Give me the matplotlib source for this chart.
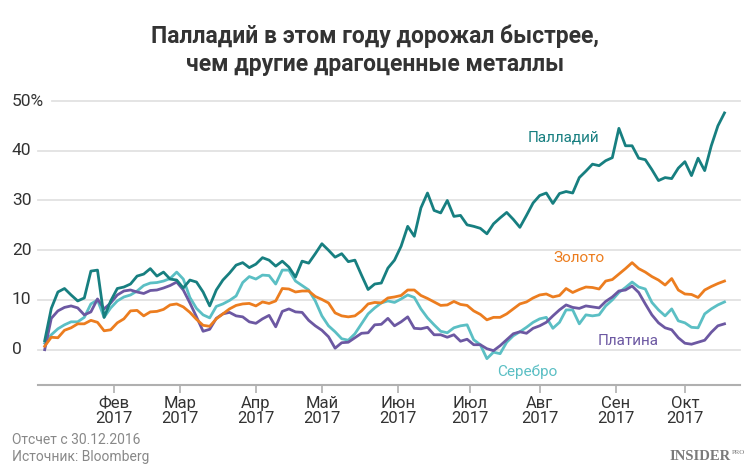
import numpy as np
import pandas as pd
import matplotlib
matplotlib.use('Agg')
import matplotlib.pyplot as plt
from matplotlib import transforms

# every second business day from 3 Jan 2017, % change since 30.12.2016
start = '2017-01-03'
dates = pd.bdate_range(start, '2017-10-18')[::2]

palladium = [
    1.8, 8.3, 11.6, 12.3, 11.0, 9.8, 10.4, 15.8, 16.0, 6.5,
    9.8, 12.3, 12.6, 13.2, 14.8, 15.2, 16.3, 14.8, 15.6, 14.2,
    14.0, 12.4, 14.0, 13.6, 11.6, 8.8, 12.0, 14.0, 15.4, 17.0,
    17.5, 16.5, 17.2, 18.5, 18.0, 16.8, 17.8, 16.6, 14.6, 17.8,
    17.4, 19.3, 21.3, 20.0, 18.6, 19.3, 17.7, 18.0, 15.0, 12.1,
    13.2, 13.4, 16.4, 18.0, 20.8, 24.8, 22.8, 28.5, 31.5, 28.0,
    27.5, 30.0, 26.8, 27.0, 25.1, 24.8, 24.4, 23.3, 25.3, 26.5,
    27.6, 26.2, 24.6, 27.0, 29.5, 31.0, 31.5, 29.4, 31.4, 31.8,
    31.5, 34.6, 35.9, 37.3, 37.0, 38.0, 38.6, 44.5, 41.0, 41.0,
    38.5, 38.2, 36.2, 34.0, 34.6, 34.4, 36.5, 37.8, 35.0, 38.5,
    36.0, 41.0, 45.0, 47.6]

gold = [
    0.7, 2.5, 2.4, 3.9, 4.4, 5.2, 5.2, 5.9, 5.5, 3.8,
    4.0, 5.4, 6.2, 7.8, 7.9, 6.8, 7.6, 7.7, 8.1, 9.0,
    9.2, 8.6, 7.5, 6.1, 4.9, 4.7, 6.2, 7.2, 8.2, 8.9,
    9.2, 9.3, 8.8, 9.6, 9.3, 9.8, 12.3, 12.2, 11.6, 11.8,
    11.8, 10.7, 10.1, 9.4, 7.4, 6.8, 6.6, 6.8, 7.8, 9.2,
    9.5, 9.4, 10.4, 10.6, 10.9, 12.0, 12.0, 10.9, 10.3, 9.6,
    8.9, 9.0, 9.7, 9.1, 8.9, 7.8, 7.1, 6.0, 6.5, 6.5,
    7.2, 8.2, 9.2, 9.6, 10.4, 11.0, 11.2, 10.6, 10.9, 12.3,
    11.5, 12.1, 12.6, 12.5, 12.2, 13.8, 14.1, 15.2, 16.3, 17.5,
    16.3, 15.6, 14.7, 14.0, 13.0, 14.3, 12.0, 11.2, 11.1, 10.5,
    12.0, 12.7, 13.3, 13.8]

silver = [
    1.3, 3.0, 4.2, 5.0, 5.6, 5.6, 6.5, 9.2, 10.0, 6.5,
    8.4, 9.8, 10.6, 11.0, 11.8, 12.9, 13.4, 13.5, 13.8, 14.3,
    15.6, 14.2, 10.5, 8.3, 7.0, 6.4, 8.7, 9.2, 9.9, 10.8,
    13.5, 14.7, 14.2, 15.0, 14.9, 13.2, 16.0, 16.0, 13.8, 12.9,
    12.0, 9.8, 6.8, 4.8, 3.6, 2.2, 1.9, 3.2, 5.2, 7.2,
    8.4, 9.4, 9.8, 9.5, 10.2, 11.0, 10.5, 8.2, 6.4, 5.0,
    3.7, 3.4, 4.4, 4.8, 5.0, 2.0, 1.0, -1.8, -0.5, -0.8,
    1.5, 2.8, 3.6, 4.5, 5.5, 6.2, 6.5, 4.3, 5.5, 8.0,
    8.0, 5.2, 7.0, 6.8, 7.0, 8.8, 10.0, 11.5, 12.5, 13.6,
    12.6, 12.2, 9.5, 8.0, 6.8, 8.2, 5.8, 5.4, 4.5, 4.4,
    7.2, 8.2, 9.0, 9.6]

platinum = [
    0.0, 6.3, 7.8, 8.5, 8.8, 8.4, 7.0, 7.6, 10.2, 8.2,
    9.4, 11.0, 11.8, 12.0, 11.6, 11.3, 11.9, 12.0, 12.4, 12.9,
    13.6, 12.0, 9.4, 6.6, 3.7, 4.1, 6.3, 7.2, 7.5, 6.8,
    6.6, 5.6, 5.3, 6.2, 6.9, 4.6, 7.7, 8.2, 7.6, 7.5,
    5.9, 4.8, 3.9, 2.6, 0.3, 1.4, 1.5, 2.4, 3.3, 3.4,
    5.0, 5.1, 6.3, 4.8, 5.6, 6.6, 4.3, 4.2, 4.5, 3.0,
    3.0, 2.5, 3.0, 1.7, 2.1, 1.0, 1.0, 0.2, -0.2, 0.8,
    2.0, 3.2, 3.6, 3.3, 4.3, 4.8, 5.5, 6.8, 8.0, 9.0,
    8.5, 8.3, 8.8, 8.6, 8.4, 9.7, 10.6, 11.8, 12.0, 12.8,
    11.5, 9.2, 7.0, 5.4, 4.4, 4.0, 2.4, 1.3, 1.1, 1.5,
    1.9, 3.5, 4.8, 5.2]

month_starts = ['2017-02-01', '2017-03-01', '2017-04-01', '2017-05-01', '2017-06-01',
                '2017-07-01', '2017-08-01', '2017-09-01', '2017-10-01']
month_names = ['Фев', 'Мар', 'Апр', 'Май', 'Июн', 'Июл', 'Авг', 'Сен', 'Окт']
y_ticks = [0, 10, 20, 30, 40, 50]
y_labels = ['0', '10', '20', '30', '40', '50%']

# x axis counts business days, like the original
d0 = np.datetime64(start, 'D')
x = np.busday_count(d0, dates.values.astype('datetime64[D]'))
tick_x = np.busday_count(d0, np.array(month_starts, dtype='datetime64[D]'))

narrow = ['Liberation Sans Narrow', 'Roboto', 'DejaVu Sans']
W, H = 750, 471

fig = plt.figure(figsize=(7.5, 4.71), dpi=100)
ax = fig.add_axes([38 / W, 86 / H, 702 / W, 284 / H])
ax.set_xlim(-2.03, 210.7)
ax.set_ylim(-7.1, 50)

for v in y_ticks:
    xmin = 14 / 702 if v == 50 else 0
    ax.axhline(v, xmin=xmin, color='#e2e2e2', lw=1.3, zorder=0, clip_on=False)

trans = transforms.blended_transform_factory(fig.transFigure, ax.transData)
for v, lab in zip(y_ticks, y_labels):
    ax.text(12 / W, v, lab, transform=trans, ha='left', va='center',
            fontsize=12.5, color='#333333', family=narrow)

ax.plot(x, silver, color='#5bbfc4', lw=2, zorder=2)
ax.plot(x, platinum, color='#6c58a2', lw=2, zorder=3)
ax.plot(x, gold, color='#ec7d1f', lw=2, zorder=4)
ax.plot(x, palladium, color='#177f80', lw=2, zorder=5)

for s in ['top', 'right', 'left']:
    ax.spines[s].set_visible(False)
ax.spines['bottom'].set_color('#b0b0b0')
ax.spines['bottom'].set_linewidth(1.5)
ax.set_yticks([])
ax.set_xticks(tick_x)
ax.set_xticklabels([m + '\n2017' for m in month_names], fontsize=12,
                   color='#333333', family=narrow, linespacing=0.95)
ax.tick_params(axis='x', length=6, width=1.2, color='#b0b0b0', pad=2)

fig.text(0.5, 1 - 50 / H, 'Палладий в этом году дорожал быстрее,\nчем другие драгоценные металлы',
         ha='center', va='center', fontsize=16.5, fontweight='bold', family='Roboto',
         color='#333333', linespacing=1.25)

fig.text(563 / W, 1 - 138 / H, 'Палладий', ha='center', va='center', fontsize=11,
         family='Roboto', color='#177f80')
fig.text(579 / W, 1 - 258 / H, 'Золото', ha='center', va='center', fontsize=11,
         family='Roboto', color='#ec7d1f')
fig.text(527 / W, 1 - 372 / H, 'Серебро', ha='center', va='center', fontsize=11,
         family='Roboto', color='#5bbfc4')
fig.text(628 / W, 1 - 341 / H, 'Платина', ha='center', va='center', fontsize=11,
         family='Roboto', color='#6c58a2')

fig.text(12 / W, 1 - 440 / H, 'Отсчет с 30.12.2016', ha='left', va='center',
         fontsize=10, family=narrow, color='#888888')
fig.text(12 / W, 1 - 457 / H, 'Источник: Bloomberg', ha='left', va='center',
         fontsize=10, family=narrow, color='#888888')
fig.text(731 / W, 1 - 457 / H, 'INSIDER', ha='right', va='center', fontsize=10.5,
         family='Liberation Serif', fontweight='bold', color='#7a7a7a')
fig.text(732 / W, 1 - 453 / H, 'PRO', ha='left', va='center', fontsize=5,
         family='Liberation Serif', color='#7a7a7a')

fig.savefig('out.png', dpi=100)
